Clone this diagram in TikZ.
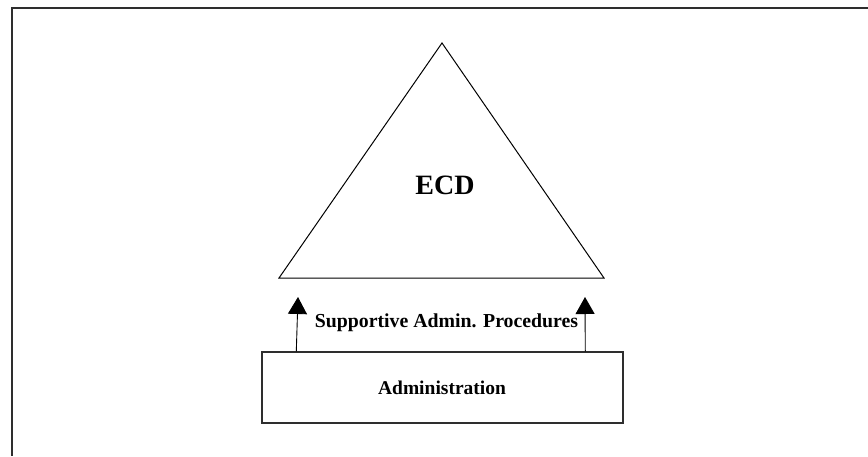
\documentclass[tikz,border=0pt]{standalone}
\usepackage{fontspec}
\setmainfont{Liberation Serif}
\usetikzlibrary{arrows.meta}
\begin{document}
\begin{tikzpicture}[x=1pt,y=-1pt,
  frameline/.style={line width=1.6pt,draw=black!82},
  boxline/.style={line width=1.4pt,draw=black!82},
  upward/.style={line width=0.9pt,-{Triangle[length=17pt,width=19pt]}},
  label/.style={font=\bfseries,inner sep=0pt}]
\useasboundingbox (0,0) rectangle (868,456);
% open frame: top and left edges only
\coordinate (ftr) at (868,8);
\coordinate (ftl) at (12,8);
\coordinate (fbl) at (12,456);
\draw[frameline] (ftr) -- (ftl) -- (fbl);
% triangle
\coordinate (apex) at (442,43);
\coordinate (bl) at (279,278);
\coordinate (br) at (604,278);
\draw[line width=1pt] (apex) -- (br) -- (bl) -- cycle;
\node[label,font=\bfseries\fontsize{28}{30}\selectfont] (ecd) at (445,185) {ECD};
% administration box
\node[boxline,minimum width=361pt,minimum height=71pt,inner sep=0pt] (admin) at (442.5,387.5) {};
\node[label,font=\bfseries\fontsize{19.5}{22}\selectfont] (admintext) at (442,388) {Administration};
% supporting arrows
\coordinate (lt) at (298,297);
\coordinate (rt) at (585,297);
\draw[upward] (admin.north west) ++(35,0) coordinate (lb) -- (lt);
\draw[upward] (admin.north west) ++(324,0) coordinate (rb) -- (rt);
\node[label,font=\bfseries\fontsize{19.8}{22}\selectfont] (sap) at (446.5,323) {Supportive Admin. Procedures};
\end{tikzpicture}
\end{document}
